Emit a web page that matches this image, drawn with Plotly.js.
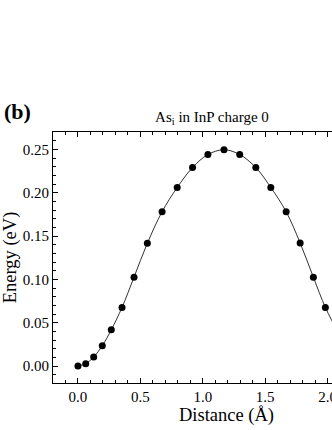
<!DOCTYPE html>
<html>
<head>
<meta charset="utf-8">
<script src="https://cdn.plot.ly/plotly-3.0.1.min.js"></script>
<style>
  html, body { margin: 0; padding: 0; overflow: hidden; background: #fff; }
  #grafica { width: 420px; height: 430px; }
</style>
</head>
<body>
<div id="grafica"></div>
<script>
// Puntos del camino de energía (distancia en Å, energía en eV)
const distancia = [0.0, 0.062, 0.126, 0.195, 0.267, 0.353, 0.449, 0.556, 0.674, 0.795,
                   0.918, 1.041, 1.170, 1.296, 1.425, 1.545, 1.668, 1.780, 1.886, 1.982,
                   2.073, 2.147, 2.214, 2.278, 2.340];
const energia = [0.0, 0.0027, 0.0104, 0.0234, 0.0418, 0.0676, 0.1025, 0.1417, 0.178, 0.206,
                 0.229, 0.244, 0.2495, 0.244, 0.229, 0.206, 0.178, 0.142, 0.1025, 0.0676,
                 0.042, 0.0234, 0.0104, 0.0027, 0.0];

const ticksY = [0.0, 0.05, 0.10, 0.15, 0.20, 0.25];
const ticksX = [0.0, 0.5, 1.0, 1.5, 2.0, 2.5];

const fuente = "Liberation Serif, Times New Roman, serif";

const curva = {
    x: distancia,
    y: energia,
    type: 'scatter',
    mode: 'lines',
    line: { color: '#333', width: 1, shape: 'spline', smoothing: 1 },
    hoverinfo: 'skip'
};

const puntos = {
    x: distancia,
    y: energia,
    type: 'scatter',
    mode: 'markers',
    marker: { color: '#000', size: 7 }
};

const ejeComun = {
    showline: true,
    linecolor: '#000',
    linewidth: 1,
    mirror: 'allticks',
    ticks: 'inside',
    ticklen: 5,
    tickwidth: 1,
    tickcolor: '#000',
    showgrid: false,
    zeroline: false,
    tickfont: { family: fuente, size: 15, color: '#000' }
};

const layout = {
    width: 420,
    height: 430,
    margin: { l: 53, r: 20, t: 132, b: 47 },
    paper_bgcolor: '#fff',
    plot_bgcolor: '#fff',
    showlegend: false,
    font: { family: fuente, color: '#000' },
    title: {
        text: 'As<sub>i</sub> in InP charge 0',
        font: { family: fuente, size: 15, color: '#000' },
        xref: 'paper', x: 0.458, xanchor: 'center',
        yref: 'container', y: 1 - 117 / 430, yanchor: 'middle'
    },
    xaxis: Object.assign({}, ejeComun, {
        range: [-0.2, 2.58],
        tickvals: ticksX,
        ticktext: ticksX.map(v => v.toFixed(1)),
        minor: { dtick: 0.1, ticks: 'inside', ticklen: 3, tickcolor: '#000' },
        title: { text: 'Distance (Å)', font: { family: fuente, size: 18.5, color: '#000' }, standoff: 2 }
    }),
    yaxis: Object.assign({}, ejeComun, {
        range: [-0.0196, 0.27],
        tickvals: ticksY,
        ticktext: ticksY.map(v => v.toFixed(2)),
        minor: { dtick: 0.01, ticks: 'inside', ticklen: 3, tickcolor: '#000' },
        title: { text: 'Energy (eV)', font: { family: fuente, size: 18.5, color: '#000' }, standoff: 4 }
    }),
    annotations: [{
        text: '<b>(b)</b>',
        xref: 'paper', yref: 'paper',
        x: -0.148, y: 1.083,
        xanchor: 'left', yanchor: 'middle',
        showarrow: false,
        font: { family: fuente, size: 22, color: '#000' }
    }]
};

Plotly.newPlot('grafica', [curva, puntos], layout, { displayModeBar: false, staticPlot: true });
</script>
</body>
</html>
